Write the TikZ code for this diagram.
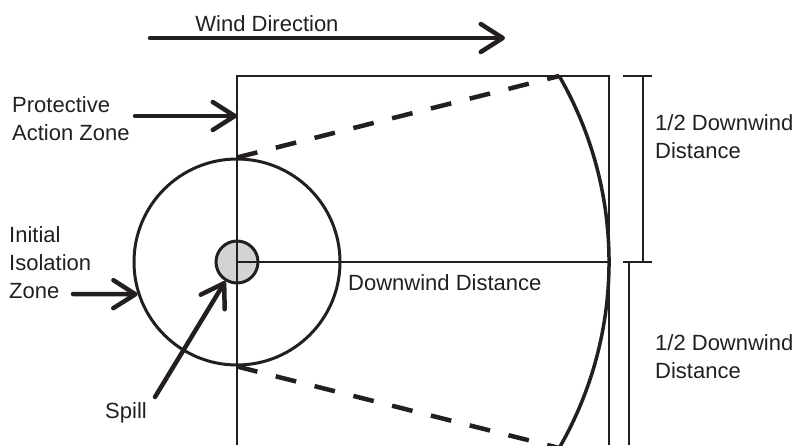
\documentclass[tikz,border=0pt]{standalone}
\usepackage{fontspec}
\setmainfont{Liberation Sans}
\usetikzlibrary{arrows.meta,positioning}
\definecolor{ink}{HTML}{231F20}
\definecolor{spillgray}{HTML}{D1D3D4}

\begin{document}
\begin{tikzpicture}[
    x=1pt, y=-1pt,
    label/.style={font=\fontsize{22}{28}\selectfont, inner sep=0pt, align=left, text=ink},
    thinline/.style={line width=2pt, draw=ink},
    bigarrow/.style={line width=4.5pt, line cap=round, draw=ink, -{Straight Barb[length=22pt, width=28pt, round]}},
    plume/.style={line width=4.5pt, draw=ink, dash pattern=on 21pt off 19pt},
    ring/.style={circle, draw=ink, line width=3pt, minimum size=206pt, inner sep=0pt},
    spot/.style={circle, draw=ink, fill=spillgray, line width=3pt, minimum size=42pt, inner sep=0pt}
]
\useasboundingbox (0,0) rectangle (795,445);

% zones
\node[ring] (iso) at (237,262) {};
\node[spot] (spill) at (iso) {};
\coordinate (tl) at (237,76);
\coordinate (tr) at (609,76);
\coordinate (bl) at (237,445);
\coordinate (br) at (609,445);
\coordinate (dwend) at (609,262);
\draw[thinline] (bl) -- (tl) -- (tr) -- (br);
\draw[thinline] (spill.center) -- (dwend);
\draw[line width=3.5pt, draw=ink] (559.2,76) arc[start angle=-30, end angle=30, radius=372];
\draw[plume] (iso.north) -- (559.2,76);
\draw[plume] (iso.south) -- (559.2,448);

% half distances
\coordinate (dimtop) at (643,76);
\coordinate (dimmid) at (643,262);
\coordinate (dimlow) at (629,262);
\coordinate (dimend) at (629,445);
\draw[thinline] ([xshift=-20pt]dimtop) -- ([xshift=9pt]dimtop);
\draw[thinline] ([xshift=-20pt]dimmid) -- ([xshift=9pt]dimmid);
\draw[thinline] (dimtop) -- (dimmid);
\draw[thinline] (dimlow) -- (dimend);
\node[label, anchor=north west] (halfup) at (655,114) {1/2 Downwind\\Distance};
\node[label, anchor=north west] (halfdown) at (655,334) {1/2 Downwind\\Distance};

% labels and pointers
\node[label, anchor=base] (windlbl) at (267,31) {Wind Direction};
\coordinate (windtail) at (150,38);
\coordinate (windtip) at (505,38);
\draw[bigarrow] (windtail) -- (windtip);

\node[label, anchor=north west] (pazlbl) at (12,96) {Protective\\Action Zone};
\coordinate (paztail) at (135,116);
\draw[bigarrow] (paztail) -- (paztail -| tl);

\node[label, anchor=north west] (izlbl) at (9,226) {Initial\\Isolation\\Zone};
\coordinate (iztail) at (73,294);
\draw[bigarrow] (iztail) -- (iso.198);

\node[label, anchor=base] (spilllbl) at (126,418) {Spill};
\coordinate (spilltail) at (155,397);
\draw[bigarrow] (spilltail) -- (spill);

\node[label, anchor=base west] (dwlbl) at (348,290) {Downwind Distance};
\end{tikzpicture}
\end{document}
